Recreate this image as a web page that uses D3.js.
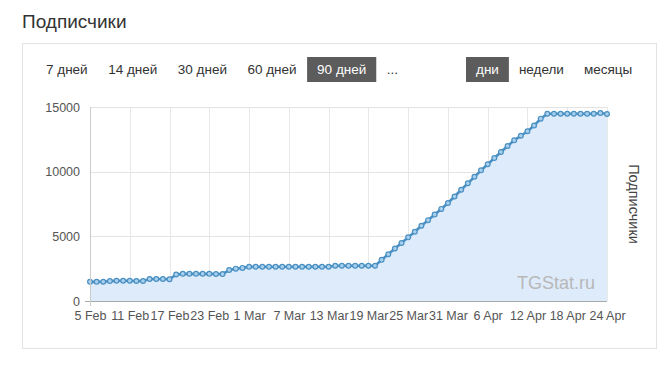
<!DOCTYPE html>
<html>
<head>
<meta charset="utf-8">
<script src="https://cdn.jsdelivr.net/npm/d3@7"></script>
<style>
  body { margin: 0; background: #fff; }
  svg { display: block; font-family: "Liberation Sans", Arial, sans-serif; }
</style>
</head>
<body>
<div id="chart"></div>
<script>
// Data: daily subscriber counts from 5 Feb to 24 Apr
var startDate = "2023-02-05";
var subscribers = [
  1480, 1480, 1490, 1540, 1560, 1560, 1560, 1550, 1550, 1700,
  1700, 1700, 1680, 2050, 2100, 2100, 2100, 2100, 2100, 2090,
  2080, 2400, 2500, 2560, 2640, 2650, 2650, 2650, 2650, 2650,
  2650, 2650, 2650, 2650, 2650, 2650, 2650, 2720, 2720, 2720,
  2720, 2720, 2720, 2720, 3180, 3620, 4060, 4480, 4920, 5360,
  5820, 6250, 6680, 7120, 7580, 8080, 8600, 9100, 9600, 10100,
  10570, 11050, 11520, 11980, 12420, 12780, 13120, 13560, 14100, 14480,
  14480, 14480, 14480, 14480, 14480, 14480, 14480, 14540, 14460
];
var yTicks = [0, 5000, 10000, 15000];
var periodButtons = ["7 дней", "14 дней", "30 дней", "60 дней", "90 дней", "..."];
var groupButtons = ["дни", "недели", "месяцы"];
var activePeriod = "90 дней";
var activeGroup = "дни";

var width = 666, height = 366;
var margin = { top: 107, right: 59, bottom: 65, left: 90 };
var innerWidth = width - margin.left - margin.right;
var innerHeight = height - margin.top - margin.bottom;

var parse = d3.timeParse("%Y-%m-%d");
var t0 = parse(startDate);
var data = subscribers.map(function (v, i) {
  return { date: d3.timeDay.offset(t0, i), value: v };
});

var svg = d3.select("#chart").append("svg")
  .attr("width", width)
  .attr("height", height);

// Title and panel
svg.append("text")
  .attr("x", 22).attr("y", 28)
  .attr("font-size", 19).attr("fill", "#333")
  .text("Подписчики");

svg.append("rect")
  .attr("x", 22.5).attr("y", 43.5)
  .attr("width", 634).attr("height", 305)
  .attr("fill", "#fff").attr("stroke", "#e3e3e3");

// Buttons row
function drawButtons(labels, x0, gap, active) {
  var row = svg.append("g");
  var x = x0;
  labels.forEach(function (label) {
    var b = row.append("g");
    var t = b.append("text")
      .attr("x", x).attr("y", 74)
      .attr("font-size", 13.5)
      .attr("fill", label === active ? "#fff" : "#333")
      .text(label);
    var w = t.node().getComputedTextLength();
    if (label === active) {
      b.insert("rect", "text")
        .attr("x", x - 10).attr("y", 57)
        .attr("width", w + 20).attr("height", 25)
        .attr("fill", "#5c5c5c");
    }
    x += w + gap;
  });
}
drawButtons(periodButtons, 46, 20.5, activePeriod);
drawButtons(groupButtons, 476, 20, activeGroup);

var g = svg.append("g")
  .attr("transform", "translate(" + margin.left + "," + margin.top + ")");

var x = d3.scaleTime()
  .domain([data[0].date, data[data.length - 1].date])
  .range([0, innerWidth]);

var y = d3.scaleLinear()
  .domain([0, 15000])
  .range([innerHeight, 0]);

var xTicks = d3.range(0, subscribers.length, 6).map(function (i) { return data[i].date; });

// Grid
g.append("g")
  .selectAll("line")
  .data(xTicks)
  .join("line")
  .attr("x1", function (d) { return Math.round(x(d)) + 0.5; })
  .attr("x2", function (d) { return Math.round(x(d)) + 0.5; })
  .attr("y1", 0).attr("y2", innerHeight)
  .attr("stroke", "#e8e8e8");

g.append("g")
  .selectAll("line")
  .data(yTicks)
  .join("line")
  .attr("x1", 0).attr("x2", innerWidth)
  .attr("y1", function (d) { return Math.round(y(d)) + 0.5; })
  .attr("y2", function (d) { return Math.round(y(d)) + 0.5; })
  .attr("stroke", "#e3e3e3");

// Area and line
var area = d3.area()
  .x(function (d) { return x(d.date); })
  .y0(innerHeight)
  .y1(function (d) { return y(d.value); });

var line = d3.line()
  .x(function (d) { return x(d.date); })
  .y(function (d) { return y(d.value); });

g.append("path").datum(data)
  .attr("d", area)
  .attr("fill", "#deebfb");

// Watermark
g.append("text")
  .attr("x", innerWidth - 12).attr("y", innerHeight - 12)
  .attr("text-anchor", "end")
  .attr("font-size", 18).attr("fill", "#b8b8b8")
  .text("TGStat.ru");

g.append("path").datum(data)
  .attr("d", line)
  .attr("fill", "none")
  .attr("stroke", "#4a90c2")
  .attr("stroke-width", 2.6);

g.append("g")
  .selectAll("circle")
  .data(data)
  .join("circle")
  .attr("cx", function (d) { return x(d.date); })
  .attr("cy", function (d) { return y(d.value); })
  .attr("r", 2.4)
  .attr("fill", "#a9d0ec")
  .attr("stroke", "#4a90c2")
  .attr("stroke-width", 1.2);

// Axes
var fmt = d3.timeFormat("%-d %b");
var xAxis = g.append("g")
  .attr("transform", "translate(0," + innerHeight + ")")
  .call(d3.axisBottom(x).tickValues(xTicks).tickFormat(fmt).tickSize(0).tickPadding(10));
xAxis.select(".domain").attr("stroke", "#aaa").attr("d", "M-5,0.5H" + innerWidth);
xAxis.selectAll("text").attr("font-size", 12.5).attr("fill", "#555")
  .attr("font-family", "Liberation Sans, Arial, sans-serif");

var yAxis = g.append("g")
  .call(d3.axisLeft(y).tickValues(yTicks).tickFormat(d3.format("d")).tickSize(0).tickPadding(10));
yAxis.select(".domain").attr("stroke", "#ccc").attr("d", "M0.5,0V" + (innerHeight + 5));
yAxis.selectAll("text").attr("font-size", 12.5).attr("fill", "#555")
  .attr("font-family", "Liberation Sans, Arial, sans-serif");

// Right axis title
svg.append("text")
  .attr("transform", "translate(629," + (margin.top + innerHeight / 2) + ") rotate(90)")
  .attr("text-anchor", "middle")
  .attr("font-size", 14.5).attr("fill", "#444")
  .text("Подписчики");
</script>
</body>
</html>
